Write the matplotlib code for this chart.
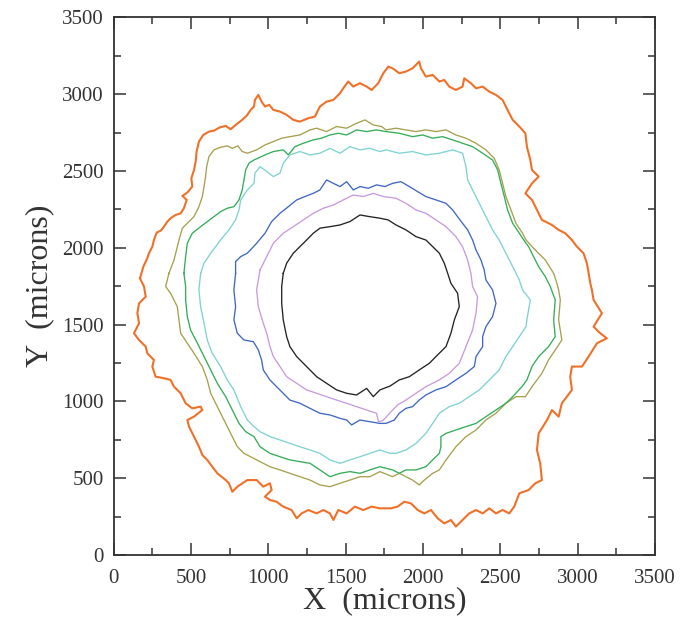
import matplotlib
matplotlib.use("Agg")
import matplotlib.pyplot as plt
from matplotlib.ticker import MultipleLocator

plt.rcParams['font.family'] = ['Liberation Serif', 'DejaVu Serif']

# ---- data (microns) ----
orange_x = [171,193,218,229,251,261,279,305,326,348,369,401,434,455,473,445,477,509,503,520,531,537,552,580,617,649,688,725,757,789,826,860,886,908,
            914,936,957,979,1007,1033,1076,1119,1162,1205,1259,1302,1334,1377,1421,1464,1485,1517,1550,1593,1636,1668,1711,1744,1776,
            1804,1847,1890,1933,1976,1987,2019,2063,2106,2138,2170,2213,2256,2267,2310,2343,2386,2429,2472,2515,2547,2580,2623,
            2662,2672,2694,2705,2748,2705,2662,2705,2737,2769,2834,2877,2920,2963,2995,3038,3060,3071,3082,
            3092,3103,3157,3103,3146,3189,3125,3071,3028,2963,2952,2963,2898,2877,2834,2802,2748,2737,2758,2769,2726,2683,
            2623,2590,2558,2515,2472,2429,2386,2343,2299,2256,2213,2181,2138,2095,2052,2009,1966,1923,1880,1836,1793,
            1722,1668,1614,1560,1507,1453,1421,1399,1356,1313,1259,1216,1184,1151,1097,1054,1011,979,1022,1011,968,925,
            865,800,768,746,725,671,638,606,574,552,520,488,477,520,574,563,509,466,434,391,369,326,272,251,261,218,208,165,132,165,154,165,208,197]
orange_y = [1802,1878,1932,1965,2008,2051,2099,2112,2138,2171,2193,2214,2225,2258,2312,2338,2360,2399,2453,2507,2562,2627,2692,2735,2757,2763,2785,2794,2772,2800,2829,2859,2898,2920,
            2963,2996,2952,2920,2931,2898,2887,2866,2833,2822,2844,2855,2920,2952,2963,3007,3039,3083,3050,3072,3050,3028,3072,3137,3180,
            3169,3137,3148,3169,3213,3169,3115,3126,3083,3093,3050,3028,3050,3104,3072,3039,3050,3017,2996,2963,2898,2833,2790,
            2746,2659,2572,2507,2464,2420,2355,2312,2247,2182,2149,2117,2095,2051,2008,1965,1899,1834,1769,
            1726,1661,1574,1487,1444,1411,1379,1292,1227,1227,1161,1075,988,901,944,879,792,684,597,488,467,423,
            402,315,271,293,271,304,271,293,271,228,185,228,206,239,293,271,293,336,347,315,304,
            304,315,293,315,271,293,228,271,293,271,293,271,239,293,315,347,358,380,423,467,445,488,
            488,445,412,467,488,532,575,619,651,706,771,836,879,901,944,966,955,988,1053,1096,1140,1151,1161,1227,1270,1314,1357,1400,1444,1509,1574,1639,1682,1748]

olive_x = [358,391,423,445,488,520,552,574,585,595,602,617,649,692,735,768,804,832,865,
           925,979,1033,1087,1140,1205,1270,1313,1377,1442,1507,1571,1625,1679,1733,
           1761,1826,1890,1955,2019,2084,2149,2213,2278,2343,2407,2461,2493,2515,2536,2569,2601,2644,2666,
           2726,2791,2845,2866,2877,
           2888,2877,2898,2855,2812,2769,2705,2662,
           2601,2536,2472,2407,2343,2278,2213,2149,2106,2063,2009,1976,1933,1890,1847,1804,
           1722,1657,1593,1528,1464,1399,1334,1270,1205,1140,1076,1011,947,
           843,800,757,714,671,628,606,574,520,477,434,423,412,369,337]
olive_y = [1834,1921,2051,2128,2171,2203,2268,2334,2399,2464,2529,2594,2638,2655,2664,2648,2664,2627,2616,
           2638,2670,2692,2714,2724,2735,2768,2779,2757,2790,2779,2811,2833,2800,2790,
           2768,2779,2768,2757,2768,2757,2768,2735,2714,2681,2638,2583,2507,2420,2334,2247,2160,2095,2051,
           1986,1921,1834,1769,1726,
           1661,1531,1400,1335,1270,1183,1096,1031,
           1031,988,923,879,814,771,705,619,554,532,488,456,488,510,532,510,
           543,510,510,488,467,445,456,488,510,532,554,575,608,
           662,706,792,879,966,1053,1140,1227,1314,1379,1444,1531,1617,1704,1748]

green_x = [455,466,477,509,563,606,649,692,735,778,811,832,843,854,875,908,
           979,1033,1097,1130,1173,1227,1291,1345,1399,1453,1507,1571,1636,1700,
           1761,1847,1933,1998,2063,2127,2192,2256,2321,2386,2450,2483,2504,2526,2547,2580,2623,2666,
           2683,2715,2748,2791,2823,
           2855,2845,2855,2812,2748,2705,2672,2640,
           2580,2536,2472,2407,2343,2278,2213,2149,2116,2116,2106,2063,2019,1955,1890,1847,1804,
           1722,1657,1593,1528,1464,1399,1334,1270,1205,1140,1076,1011,947,
           908,854,811,768,725,671,628,585,542,498,477,466,466]
green_y = [1834,1943,2030,2095,2138,2171,2203,2236,2258,2268,2312,2377,2442,2507,2551,2572,
           2605,2627,2638,2605,2659,2681,2703,2714,2735,2746,2735,2768,2757,2768,
           2757,2746,2724,2735,2714,2724,2703,2681,2659,2616,2572,2507,2420,2334,2247,2160,2095,2030,
           2008,1943,1878,1813,1748,
           1661,1531,1422,1357,1292,1227,1140,1096,
           1031,988,944,901,857,836,814,792,771,705,662,619,575,554,554,532,554,
           575,554,532,543,532,510,554,597,608,619,640,662,705,
           771,803,857,944,1031,1118,1205,1292,1379,1465,1552,1661,1748]

cyan_x = [563,585,628,692,746,789,811,822,865,908,
          914,947,990,1033,1076,1097,1140,1205,1270,1334,1399,1464,1528,1593,1657,1722,
          1761,1847,1933,2019,2106,2192,2256,2278,2289,2321,2364,2407,2450,2493,2536,2580,2623,2644,
          2694,2672,
          2666,2623,2580,2536,2493,2429,2364,2299,2235,2170,2106,2063,2019,1955,1890,1826,
          1787,1722,1657,1593,1528,1464,1399,1334,1270,1205,1140,1076,1011,947,
          908,865,822,778,735,692,638,606,585,563,552]
cyan_y = [1834,1900,1965,2051,2117,2182,2247,2312,2377,2420,
          2486,2529,2497,2464,2486,2551,2605,2627,2605,2616,2648,2616,2659,2638,2648,2627,
          2638,2616,2627,2605,2616,2638,2616,2529,2442,2377,2290,2203,2117,2051,1965,1878,1791,1726,
          1661,1531,
          1487,1422,1357,1292,1205,1140,1075,1031,988,966,923,857,792,727,684,662,
          662,684,662,640,619,597,619,662,684,705,727,749,771,803,
          836,879,966,1075,1140,1227,1314,1400,1509,1617,1726]

blue_x = [789,789,822,865,
          925,979,1022,1076,1130,1184,1237,1291,1334,1377,1421,1464,1507,1550,1593,1647,1700,1754,
          1804,1858,1912,1966,2019,2084,2149,2192,2224,2256,2289,2321,2343,2375,2396,2407,
          2450,2472,2450,2407,2386,2386,2343,2332,2278,2213,2149,2084,2019,1976,1933,1890,1847,1815,1761,
          1722,1657,1593,1539,1507,1464,1399,1334,1270,1205,1140,1097,1054,1011,968,957,936,904,
          843,800,778,789,778]
blue_y = [1834,1910,1943,1965,
          2030,2095,2171,2225,2268,2312,2334,2355,2377,2442,2420,2399,2431,2377,2399,2388,2410,2399,
          2420,2431,2399,2366,2334,2312,2290,2247,2203,2160,2117,2051,1986,1921,1856,1791,
          1726,1639,1552,1487,1422,1357,1292,1227,1183,1140,1096,1075,1042,1009,966,955,923,879,857,
          857,868,879,847,879,890,912,923,955,988,1009,1053,1096,1140,1205,1270,1335,1389,
          1400,1444,1531,1617,1726]

violet_x = [947,990,1033,1097,1162,1227,1291,1356,1421,1485,1550,1614,1679,1744,
            1826,1890,1955,2019,2084,2149,2213,2256,2289,2310,2321,
            2353,2343,2321,2278,2235,2170,2106,2019,1955,1890,1836,1793,
            1765,1740,1712,1700,1636,1571,1507,1442,1377,1313,1248,1184,1119,1076,1033,1011,990,968,936,925]
violet_y = [1856,1943,2030,2095,2138,2182,2225,2258,2279,2312,2344,2334,2355,2334,
            2323,2290,2247,2225,2182,2138,2073,2008,1921,1834,1748,
            1682,1574,1465,1357,1248,1183,1140,1096,1053,1009,977,933,
            901,875,868,923,944,966,988,1009,1031,1053,1075,1118,1161,1227,1292,1357,1444,1509,1617,1726]

black_x = [1097,1119,1162,1205,1248,1291,1334,1399,1464,1528,1593,1657,1722,
           1775,1826,1890,1955,2019,2063,2106,2138,2160,2181,
           2224,2235,2203,2181,2149,2084,2041,1976,1912,1847,1787,
           1722,1679,1636,1571,1507,1442,1377,1313,1248,1184,1140,1119,1097,1087,1087]
black_y = [1834,1900,1965,2008,2051,2095,2128,2138,2149,2171,2214,2203,2193,
           2182,2149,2117,2073,2051,2008,1965,1900,1834,1769,
           1704,1617,1531,1444,1357,1292,1248,1205,1161,1140,1100,
           1075,1031,1085,1042,1053,1075,1118,1161,1227,1292,1357,1422,1531,1639,1748]

x_ticks = [0, 500, 1000, 1500, 2000, 2500, 3000, 3500]
y_ticks = [0, 500, 1000, 1500, 2000, 2500, 3000, 3500]

series = [
    (orange_x, orange_y, '#f07028', 1.5),
    (olive_x, olive_y, '#a6a04e', 0.95),
    (green_x, green_y, '#33ad58', 0.95),
    (cyan_x, cyan_y, '#7fd2d2', 0.95),
    (blue_x, blue_y, '#3f67c2', 0.95),
    (violet_x, violet_y, '#c89ae0', 0.95),
    (black_x, black_y, '#222222', 0.95),
]

fig = plt.figure(figsize=(6.86, 6.33), dpi=100)
ax = fig.add_axes([0.1655, 0.1232, 0.7893, 0.8492])

for xs, ys, col, lw in series:
    ax.plot(list(xs) + [xs[0]], list(ys) + [ys[0]], color=col, lw=lw)

ax.set_xlim(0, 3500)
ax.set_ylim(0, 3500)
ax.set_xticks(x_ticks)
ax.set_yticks(y_ticks)
ax.xaxis.set_minor_locator(MultipleLocator(250))
ax.yaxis.set_minor_locator(MultipleLocator(250))
ax.tick_params(which='both', direction='in', top=True, right=True,
               labelsize=15, colors='#333333', width=1.1)
ax.tick_params(axis='y', which='both', pad=7)
ax.tick_params(axis='x', which='both', pad=10)
ax.tick_params(which='major', length=8.5)
ax.tick_params(which='minor', length=5)
for sp in ax.spines.values():
    sp.set_linewidth(1.3)
    sp.set_color('#333333')
ax.set_xlabel('X  (microns)', fontsize=23, color='#333333', labelpad=-1)
ax.set_ylabel('Y  (microns)', fontsize=23, color='#333333', labelpad=6)

fig.savefig('out.png', dpi=100)
